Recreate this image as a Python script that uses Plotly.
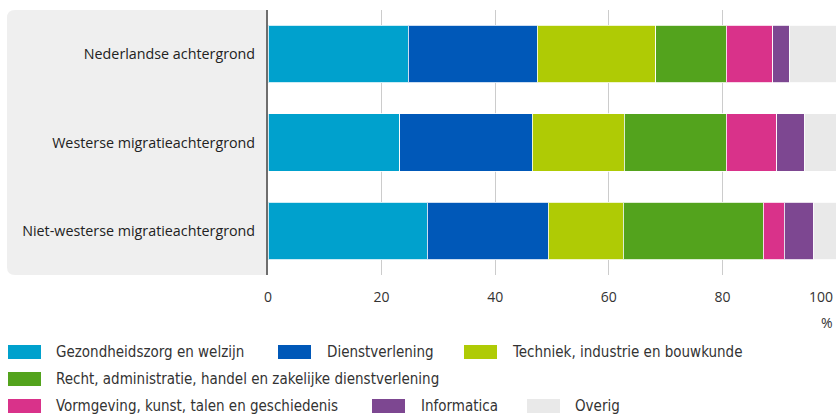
import plotly.graph_objects as go

categories = ["Nederlandse achtergrond", "Westerse migratieachtergrond", "Niet-westerse migratieachtergrond"]
series_names = [
    "Gezondheidszorg en welzijn",
    "Dienstverlening",
    "Techniek, industrie en bouwkunde",
    "Recht, administratie, handel en zakelijke dienstverlening",
    "Vormgeving, kunst, talen en geschiedenis",
    "Informatica",
    "Overig",
]
series_colors = ["#00a1cd", "#0058b8", "#afcb05", "#53a31d", "#d9328a", "#7d4791", "#e9e9e9"]
gezondheid = [24.7, 23.2, 28.0]
dienst = [22.7, 23.3, 21.3]
techniek = [20.9, 16.2, 13.2]
recht = [12.4, 18.0, 24.7]
vormgeving = [8.2, 8.9, 3.7]
informatica = [2.9, 4.8, 5.2]
overig = [8.2, 5.6, 3.9]
series_values = [gezondheid, dienst, techniek, recht, vormgeving, informatica, overig]
x_ticks = [0, 20, 40, 60, 80]
x_last_tick = "100"
x_unit = "%"

W, H = 836, 416
L, R, T, B = 268, 0, 10, 141
PW, PH = W - L - R, H - T - B

def px(x):
    return (x - L) / PW

def py(y):
    return (H - B - y) / PH

FONT = "Open Sans, Noto Sans, sans-serif"
LEGFONT = "Liberation Sans Narrow, DejaVu Sans Condensed, Roboto, sans-serif"

fig = go.Figure()
for name, color, vals in zip(series_names, series_colors, series_values):
    fig.add_trace(go.Bar(
        y=categories, x=vals, name=name, orientation="h",
        marker=dict(color=color, line=dict(color="rgba(255,255,255,0.8)", width=1)),
        showlegend=False,
    ))

shapes = []
# grey panel behind category labels
x0, x1, yt, yb, r = px(7), px(268), py(10), py(275), 8
rx, ry = r / PW, r / PH
path = (f"M {x1},{yt} L {x0+rx},{yt} Q {x0},{yt} {x0},{yt-ry} "
        f"L {x0},{yb+ry} Q {x0},{yb} {x0+rx},{yb} L {x1},{yb} Z")
shapes.append(dict(type="path", xref="paper", yref="paper", path=path,
                   fillcolor="#efefef", line=dict(width=0), layer="below"))

annotations = []
# legend (manual)
leg_pos = [(8, 54, 352), (278, 325, 352), (464, 510, 352), (8, 54, 379),
           (8, 54, 406), (372, 419, 406), (527, 573, 406)]
for (sx, tx, ly), name, color in zip(leg_pos, series_names, series_colors):
    shapes.append(dict(type="rect", xref="paper", yref="paper",
                       x0=px(sx), x1=px(sx + 33), y0=py(ly + 7), y1=py(ly - 7),
                       fillcolor=color, line=dict(width=0)))
    annotations.append(dict(x=px(tx), y=py(ly), xref="paper", yref="paper",
                            text=name, showarrow=False, xanchor="left", yanchor="middle",
                            font=dict(family=LEGFONT, size=15, color="#333333")))

annotations.append(dict(x=px(835), y=py(296), xref="paper", yref="paper", text=x_last_tick,
                        showarrow=False, xanchor="right", yanchor="middle",
                        font=dict(family=FONT, size=14, color="#333333")))
annotations.append(dict(x=px(835), y=py(322), xref="paper", yref="paper", text=x_unit,
                        showarrow=False, xanchor="right", yanchor="middle",
                        font=dict(family=FONT, size=14, color="#333333")))

fig.update_layout(
    width=W, height=H,
    margin=dict(l=L, r=R, t=T, b=B, pad=0),
    paper_bgcolor="white", plot_bgcolor="white",
    barmode="stack", bargap=0.35,
    shapes=shapes, annotations=annotations,
    font=dict(family=FONT, size=14, color="#333333"),
)
fig.update_xaxes(range=[0, 100], tickvals=x_ticks, showgrid=True, gridcolor="#cccccc",
                 gridwidth=1, zeroline=False, showline=False, ticks="",
                 ticklabelstandoff=12, tickfont=dict(family=FONT, size=14, color="#333333"))
fig.update_yaxes(categoryorder="array", categoryarray=categories[::-1],
                 showline=True, linecolor="#6e6e6e", linewidth=2, ticks="",
                 ticklabelstandoff=8, showgrid=False,
                 tickfont=dict(family=FONT, size=14.3, color="#222222"))

fig.write_html("out.html", config={"displayModeBar": False},
               post_script="document.body.style.margin='0';document.body.style.overflow='hidden';")
